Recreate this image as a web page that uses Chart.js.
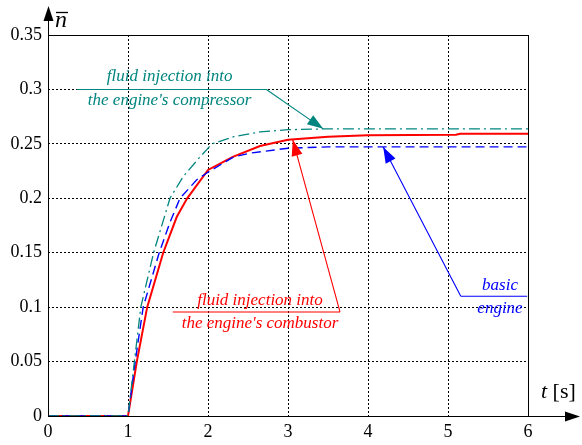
<!DOCTYPE html>
<html>
<head>
<meta charset="utf-8">
<script src="https://cdn.jsdelivr.net/npm/chart.js@4"></script>
<style>
html,body{margin:0;padding:0;background:#fff;}
#wrap{width:582px;height:445px;}
</style>
</head>
<body>
<div id="wrap"><canvas id="c" width="582" height="445"></canvas></div>
<script>
// ---- data ----
const tBasic = [0, 1, 1.09, 1.19, 1.39, 1.52, 1.65, 1.86, 1.98, 2.32, 2.53, 3.0, 3.5, 6.0];
const nBasic = [0, 0, 0.05, 0.1, 0.15, 0.177, 0.2, 0.217, 0.223, 0.238, 0.2415, 0.246, 0.2472, 0.2472];

const tCombustor = [0, 1, 1.11, 1.24, 1.44, 1.61, 1.74, 2.0, 2.31, 2.65, 3.0, 3.5, 4.0, 5.1, 5.15, 6.0];
const nCombustor = [0, 0, 0.05, 0.1, 0.15, 0.183, 0.2, 0.226, 0.238, 0.248, 0.2537, 0.2565, 0.258, 0.2583, 0.2592, 0.2592];

const tCompressor = [0, 1, 1.08, 1.16, 1.32, 1.525, 1.69, 1.9, 2.05, 2.32, 2.65, 3.0, 3.5, 6.0];
const nCompressor = [0, 0, 0.05, 0.1, 0.15, 0.2, 0.22, 0.238, 0.25, 0.2566, 0.261, 0.263, 0.2638, 0.2638];

const xTicks = [0, 1, 2, 3, 4, 5, 6];
const yTicks = [0, 0.05, 0.1, 0.15, 0.2, 0.25, 0.3, 0.35];

const labelCompressor = ["fluid injection into", "the engine's compressor"];
const labelCombustor = ["fluid injection into", "the engine's combustor"];
const labelBasic = ["basic", "engine"];
const yAxisTitle = "n";
const xAxisTitleVar = "t";
const xAxisTitleUnit = " [s]";

// ---- helpers ----
const zip = (xs, ys) => xs.map((x, i) => ({x: x, y: ys[i]}));
const SERIF = "'Liberation Serif', 'Times New Roman', serif";
const TEAL = '#00857f';
const RED = '#ff0000';
const BLUE = '#0000ff';

// annotations defined in data units
const annotations = [
  {color: TEAL, lines: labelCompressor, textX: 1.52, textY: [0.3115, 0.2900],
   ul: [0.36, 2.73, 0.3], elbow: 2.73, tip: [3.44, 0.2638]},
  {color: RED, lines: labelCombustor, textX: 2.65, textY: [0.1060, 0.0845],
   ul: [1.56, 3.65, 0.0956], elbow: 3.65, tip: [3.06, 0.2537]},
  {color: BLUE, lines: labelBasic, textX: 5.65, textY: [0.1195, 0.0990],
   ul: [5.16, 5.99, 0.110], elbow: 5.16, tip: [4.19, 0.2472]}
];

function arrowHead(ctx, x0, y0, x1, y1, len, w, color) {
  const a = Math.atan2(y1 - y0, x1 - x0);
  ctx.save();
  ctx.fillStyle = color;
  ctx.beginPath();
  ctx.moveTo(x1, y1);
  ctx.lineTo(x1 - len * Math.cos(a) + (w / 2) * Math.sin(a), y1 - len * Math.sin(a) - (w / 2) * Math.cos(a));
  ctx.lineTo(x1 - len * Math.cos(a) - (w / 2) * Math.sin(a), y1 - len * Math.sin(a) + (w / 2) * Math.cos(a));
  ctx.closePath();
  ctx.fill();
  ctx.restore();
}

const decorPlugin = {
  id: 'decor',
  afterDraw(chart) {
    const ctx = chart.ctx;
    const xs = chart.scales.x, ys = chart.scales.y;
    const ca = chart.chartArea;
    ctx.save();
    ctx.strokeStyle = '#000';
    ctx.lineWidth = 1;
    ctx.setLineDash([]);
    ctx.beginPath();
    ctx.moveTo(ca.left, Math.round(ca.top) + 0.5);
    ctx.lineTo(ca.right, Math.round(ca.top) + 0.5);
    ctx.moveTo(Math.round(ca.right) + 0.5, ca.top);
    ctx.lineTo(Math.round(ca.right) + 0.5, ca.bottom);
    ctx.moveTo(Math.round(ca.left) + 0.5, ca.bottom);
    ctx.lineTo(Math.round(ca.left) + 0.5, 14);
    ctx.moveTo(ca.left, Math.round(ca.bottom) + 0.5);
    ctx.lineTo(570, Math.round(ca.bottom) + 0.5);
    ctx.stroke();
    arrowHead(ctx, ca.left + 0.5, 30, ca.left + 0.5, 6, 15, 10, '#000');
    arrowHead(ctx, 550, ca.bottom + 0.5, 580, ca.bottom + 0.5, 15, 10, '#000');

    ctx.fillStyle = '#000';
    ctx.textBaseline = 'alphabetic';
    ctx.textAlign = 'left';
    ctx.font = 'italic 24px ' + SERIF;
    ctx.fillText(yAxisTitle, 55, 27);
    ctx.beginPath();
    ctx.lineWidth = 1.3;
    ctx.moveTo(56, 12.5);
    ctx.lineTo(68, 12.5);
    ctx.stroke();
    ctx.font = 'italic 22px ' + SERIF;
    ctx.fillText(xAxisTitleVar, 541, 398);
    const tw = ctx.measureText(xAxisTitleVar).width;
    ctx.font = '22px ' + SERIF;
    ctx.fillText(xAxisTitleUnit, 541 + tw, 398);

    annotations.forEach(a => {
      ctx.fillStyle = a.color;
      ctx.strokeStyle = a.color;
      ctx.font = 'italic 17px ' + SERIF;
      ctx.textAlign = 'center';
      ctx.textBaseline = 'middle';
      a.lines.forEach((ln, i) => {
        ctx.fillText(ln, xs.getPixelForValue(a.textX), ys.getPixelForValue(a.textY[i]));
      });
      const ux0 = xs.getPixelForValue(a.ul[0]);
      const ux1 = xs.getPixelForValue(a.ul[1]);
      const uy = ys.getPixelForValue(a.ul[2]);
      const tx = xs.getPixelForValue(a.tip[0]);
      const ty = ys.getPixelForValue(a.tip[1]);
      const ex = xs.getPixelForValue(a.elbow);
      ctx.lineWidth = 1.1;
      ctx.beginPath();
      ctx.moveTo(ux0, uy);
      ctx.lineTo(ux1, uy);
      ctx.moveTo(ex, uy);
      ctx.lineTo(tx, ty);
      ctx.stroke();
      arrowHead(ctx, ex, uy, tx, ty, 16, 11, a.color);
    });
    ctx.restore();
  }
};

const gridCommon = {color: '#000', lineWidth: 1, drawTicks: false};

new Chart(document.getElementById('c'), {
  type: 'line',
  data: {
    datasets: [
      {label: 'compressor', data: zip(tCompressor, nCompressor), borderColor: TEAL,
       borderWidth: 1.3, borderDash: [11, 4, 2, 4], pointRadius: 0, fill: false, tension: 0},
      {label: 'basic', data: zip(tBasic, nBasic), borderColor: BLUE,
       borderWidth: 1.4, borderDash: [9, 5], pointRadius: 0, fill: false, tension: 0},
      {label: 'combustor', data: zip(tCombustor, nCombustor), borderColor: RED,
       borderWidth: 2, pointRadius: 0, fill: false, tension: 0}
    ]
  },
  options: {
    responsive: false,
    animation: false,
    devicePixelRatio: 1,
    layout: {padding: {left: 0, right: 54, top: 35, bottom: 0}},
    plugins: {legend: {display: false}, tooltip: {enabled: false}},
    scales: {
      x: {
        type: 'linear', min: 0, max: 6,
        afterBuildTicks: s => { s.ticks = xTicks.map(v => ({value: v})); },
        afterFit: s => { s.height = 29; },
        grid: gridCommon,
        border: {display: false, dash: [2, 2]},
        ticks: {color: '#000', padding: 5, maxRotation: 0,
                font: {family: SERIF, size: 18},
                callback: v => String(v)}
      },
      y: {
        type: 'linear', min: 0, max: 0.35,
        afterBuildTicks: s => { s.ticks = yTicks.map(v => ({value: v})); },
        afterFit: s => { s.width = 48; },
        grid: gridCommon,
        border: {display: false, dash: [2, 2]},
        ticks: {color: '#000', padding: 6,
                font: {family: SERIF, size: 18},
                callback: v => String(+v.toFixed(2))}
      }
    }
  },
  plugins: [decorPlugin]
});
</script>
</body>
</html>
